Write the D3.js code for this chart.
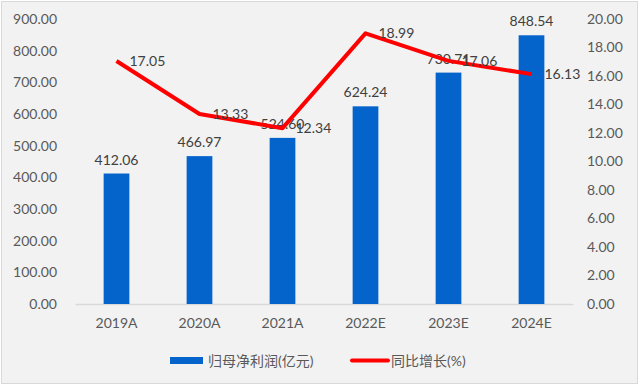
<!DOCTYPE html>
<html><head><meta charset="utf-8">
<script src="https://cdn.jsdelivr.net/npm/d3@7"></script>
<style>body{margin:0;background:#fff}svg{display:block}</style>
</head><body><svg id="c" width="640" height="387"></svg>
<script>
const categories = ["2019A","2020A","2021A","2022E","2023E","2024E"];
const profit = [412.06,466.97,524.60,624.24,730.71,848.54];
const growth = [17.05,13.33,12.34,18.99,17.06,16.13];
const leftTicks = [0,100,200,300,400,500,600,700,800,900];
const rightTicks = [0,2,4,6,8,10,12,14,16,18,20];
const seriesNames = ["归母净利润(亿元)","同比增长(%)"];

const svg = d3.select("#c");
const font = "Lato, 'Noto Sans CJK SC', sans-serif";
svg.append("rect").attr("x",1.5).attr("y",1.5).attr("width",636).attr("height",382)
  .attr("fill","#f2f2f2").attr("stroke","#d9d9d9");

const x = d3.scaleBand().domain(categories).range([75,573]).paddingInner(0.69).paddingOuter(0.345);
const yL = d3.scaleLinear().domain([0,900]).range([304,19]);
const yR = d3.scaleLinear().domain([0,20]).range([304,19]);

const ax = svg.append("g").attr("transform","translate(0,304)")
  .call(d3.axisBottom(x).tickSize(0).tickPadding(14));
ax.select(".domain").attr("stroke","#d9d9d9").attr("stroke-width",1.5);
ax.selectAll("text").attr("font-family",font).attr("font-size",14).attr("fill","#595959");

const al = svg.append("g").attr("transform","translate(57,0)")
  .call(d3.axisLeft(yL).tickValues(leftTicks).tickFormat(d3.format(".2f")).tickSize(0).tickPadding(0));
al.select(".domain").remove();
al.selectAll("text").attr("font-family",font).attr("font-size",14).attr("fill","#595959");

const ar = svg.append("g").attr("transform","translate(587,0)")
  .call(d3.axisRight(yR).tickValues(rightTicks).tickFormat(d3.format(".2f")).tickSize(0).tickPadding(0));
ar.select(".domain").remove();
ar.selectAll("text").attr("font-family",font).attr("font-size",14).attr("fill","#595959");

svg.append("g").selectAll("rect").data(profit).join("rect")
  .attr("x",(d,i)=>x(categories[i])).attr("width",x.bandwidth())
  .attr("y",d=>yL(d)).attr("height",d=>yL(0)-yL(d)).attr("fill","#0563cc");

svg.append("g").selectAll("text").data(profit).join("text")
  .attr("x",(d,i)=>x(categories[i])+x.bandwidth()/2).attr("y",d=>yL(d)-9)
  .attr("text-anchor","middle").attr("font-family",font).attr("font-size",14).attr("fill","#404040")
  .text(d=>d3.format(".2f")(d));

const line = d3.line().x((d,i)=>x(categories[i])+x.bandwidth()/2).y(d=>yR(d));
svg.append("path").datum(growth).attr("d",line).attr("fill","none")
  .attr("stroke","#ff0000").attr("stroke-width",4).attr("stroke-linejoin","round");

svg.append("g").selectAll("text").data(growth).join("text")
  .attr("x",(d,i)=>x(categories[i])+x.bandwidth()/2+13).attr("y",d=>yR(d)+5)
  .attr("font-family",font).attr("font-size",14).attr("fill","#404040")
  .text(d=>d3.format(".2f")(d));

const lg = svg.append("g").attr("font-family",font).attr("font-size",14).attr("fill","#595959");
lg.append("rect").attr("x",170).attr("y",357).attr("width",33).attr("height",7).attr("fill","#0563cc");
lg.append("text").attr("x",208).attr("y",366).text(seriesNames[0]);
lg.append("line").attr("x1",352).attr("x2",388).attr("y1",360.5).attr("y2",360.5).attr("stroke","#ff0000").attr("stroke-width",4).attr("stroke-linecap","round");
lg.append("text").attr("x",391).attr("y",366).text(seriesNames[1]);
</script></body></html>
